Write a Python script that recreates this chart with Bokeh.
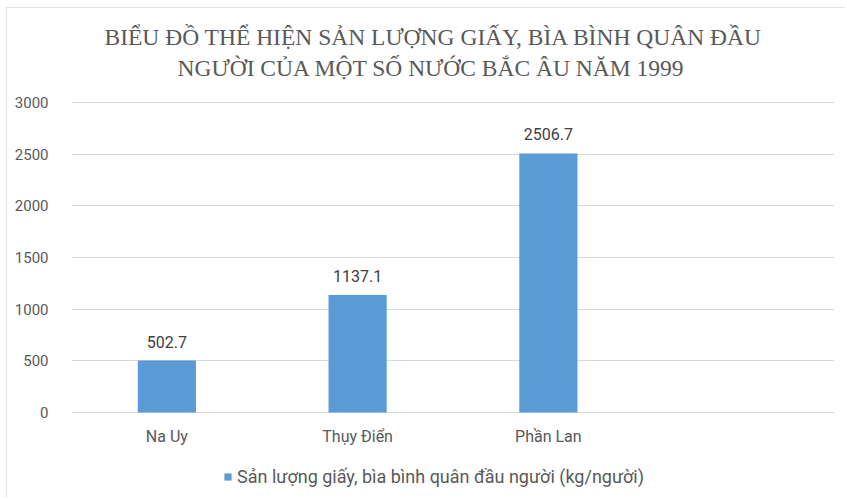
from bokeh.plotting import figure
from bokeh.models import ColumnDataSource, FactorRange, Range1d, FixedTicker, LabelSet, Legend, LegendItem, Title
from bokeh.core.properties import value
from bokeh.embed import file_html
from bokeh.resources import INLINE

countries = ["Na Uy", "Thụy Điển", "Phần Lan"]
values = [502.7, 1137.1, 2506.7]
y_ticks = [0, 500, 1000, 1500, 2000, 2500, 3000]
series_name = "Sản lượng giấy, bìa bình quân đầu người (kg/người)"
title_line1 = "BIỂU ĐỒ THỂ HIỆN SẢN LƯỢNG GIẤY, BÌA BÌNH QUÂN ĐẦU"
title_line2 = "NGƯỜI CỦA MỘT SỐ NƯỚC BẮC ÂU NĂM 1999"

src = ColumnDataSource(dict(x=countries, y=values, lab=[f"{v:.1f}" for v in values]))

# frame extends above 3000 and below the zero line (room for category labels and legend)
p = figure(width=845, height=498, output_backend="svg", toolbar_location=None,
           x_range=FactorRange(factors=countries + [" "], range_padding=0),
           y_range=Range1d(-832.3, 3193.5), x_axis_location=None,
           min_border_left=71, min_border_right=11, min_border_top=82, min_border_bottom=0,
           border_fill_alpha=0, background_fill_color="white")

# faint chart-area border (left and top edges) like the reference
p.styles = {
    "background": "linear-gradient(#e3e3e3, #e3e3e3) 6px 7px / 1px 100% no-repeat, "
                  "linear-gradient(#e3e3e3, #e3e3e3) 6px 7px / 100% 1px no-repeat, white"
}

for txt, off in ((title_line2, 106), (title_line1, 33)):
    p.add_layout(Title(text=txt, align="left", text_font="Liberation Serif", text_font_size="23.5px",
                       text_font_style="normal", text_color="#595959", offset=off, standoff=3,
                       text_line_height=1.0), "above")

r = p.vbar(x="x", top="y", width=0.305, source=src, fill_color="#5b9bd5", line_color=None)

p.add_layout(LabelSet(x="x", y="y", text="lab", source=src, text_align="center", y_offset=13,
                      text_font=value("Roboto"), text_font_size=value("16px"), text_color="#404040"))
# category labels under the zero line
p.add_layout(LabelSet(x="x", y=0, text="x", source=src, text_align="center", text_baseline="middle",
                      y_offset=-24, text_font=value("Roboto"), text_font_size=value("16px"),
                      text_color="#595959"))

p.outline_line_color = None
p.xgrid.grid_line_color = None
p.ygrid.grid_line_color = "#d9d9d9"
p.yaxis.ticker = FixedTicker(ticks=y_ticks)
p.yaxis.axis_line_color = None
p.yaxis.major_tick_line_color = None
p.yaxis.minor_tick_line_color = None
p.yaxis.major_label_standoff = 17
p.yaxis.major_label_text_font_size = "15px"
p.yaxis.major_label_text_font = "Roboto"
p.yaxis.major_label_text_color = "#595959"

legend = Legend(items=[LegendItem(label=series_name, renderers=[r])], orientation="horizontal",
                location=(152, 11), border_line_color=None, background_fill_alpha=0,
                label_text_font="Roboto",
                label_text_font_size="18px", label_text_color="#595959",
                glyph_width=9, glyph_height=9, label_standoff=5, margin=0, padding=0)
p.add_layout(legend, "center")

open("out.html", "w").write(file_html(p, INLINE))
